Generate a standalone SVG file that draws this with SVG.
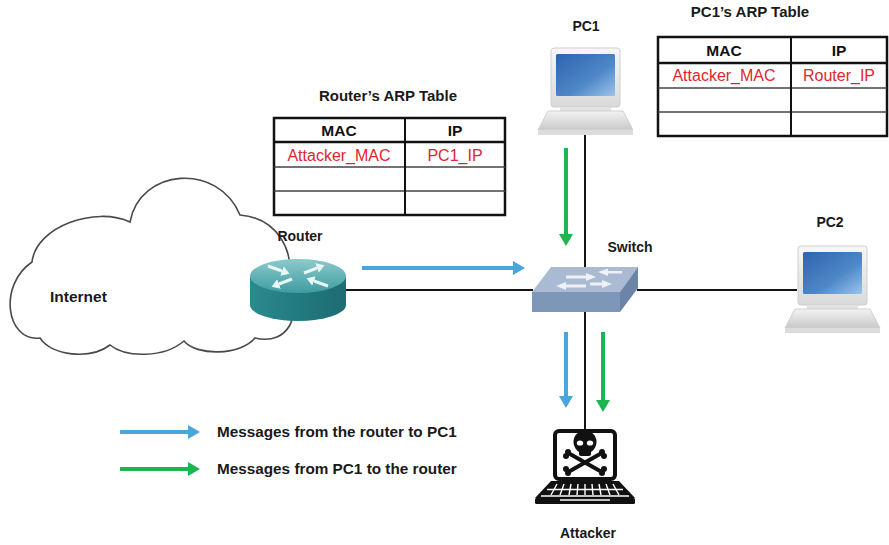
<svg xmlns="http://www.w3.org/2000/svg" width="889" height="545" viewBox="0 0 889 545">
  <style>
    .lbl { font-family: "Liberation Sans", Arial, sans-serif; font-weight: bold; font-size: 14px; fill: #1a1a1a; text-anchor: middle; }
    .ttl { font-family: "Liberation Sans", Arial, sans-serif; font-weight: bold; font-size: 15px; fill: #1a1a1a; text-anchor: middle; }
    .hd { font-family: "Liberation Sans", Arial, sans-serif; font-weight: bold; font-size: 15.5px; fill: #111; text-anchor: middle; }
    .cell { font-family: "Liberation Sans", Arial, sans-serif; font-size: 16px; fill: #e0262e; text-anchor: middle; }
    .leg { font-family: "Liberation Sans", Arial, sans-serif; font-weight: bold; font-size: 15.3px; fill: #1a1a1a; }
    .wire { stroke: #151515; stroke-width: 2; fill: none; }
    .tbl-out { fill: #fff; stroke: #111; stroke-width: 2.5; }
    .tbl-hd { stroke: #111; stroke-width: 2.5; }
    .tbl-ln { stroke: #444; stroke-width: 1.5; }
    .blue { stroke: #4aa5dc; stroke-width: 4; fill: none; marker-end: url(#headBlue); }
    .green { stroke: #1db550; stroke-width: 4; fill: none; marker-end: url(#headGreen); }
    .rarrow { stroke: #eaf6f6; stroke-width: 3; fill: none; marker-end: url(#headWhite); }
  </style>
  <defs>
    <marker id="headBlue" viewBox="0 0 12 14" markerWidth="12" markerHeight="14" refX="0" refY="7" orient="auto" markerUnits="userSpaceOnUse">
      <path d="M0,0 L12,7 L0,14 z" fill="#4aa5dc"/>
    </marker>
    <marker id="headGreen" viewBox="0 0 12 14" markerWidth="12" markerHeight="14" refX="0" refY="7" orient="auto" markerUnits="userSpaceOnUse">
      <path d="M0,0 L12,7 L0,14 z" fill="#1db550"/>
    </marker>
    <marker id="headWhite" viewBox="0 0 8 10" markerWidth="8" markerHeight="10" refX="0" refY="5" orient="auto" markerUnits="userSpaceOnUse">
      <path d="M0,0 L8,5 L0,10 z" fill="#eaf6f6"/>
    </marker>
    <linearGradient id="frame" x1="0" y1="0" x2="0" y2="1">
      <stop offset="0" stop-color="#f7f7f7"/>
      <stop offset="1" stop-color="#d9d9d9"/>
    </linearGradient>
    <linearGradient id="screen" x1="0" y1="0" x2="1" y2="1">
      <stop offset="0" stop-color="#2d63ad"/>
      <stop offset="0.6" stop-color="#4f88c8"/>
      <stop offset="1" stop-color="#9cc4ea"/>
    </linearGradient>
    <linearGradient id="kbd" x1="0" y1="0" x2="0" y2="1">
      <stop offset="0" stop-color="#f3f3f3"/>
      <stop offset="1" stop-color="#c9c9c9"/>
    </linearGradient>
    <linearGradient id="rtrTop" x1="0" y1="0" x2="0" y2="1">
      <stop offset="0" stop-color="#8ccacc"/>
      <stop offset="1" stop-color="#3f9ca0"/>
    </linearGradient>
    <linearGradient id="rtrSide" x1="0" y1="0" x2="1" y2="0">
      <stop offset="0" stop-color="#2a8a8e"/>
      <stop offset="0.5" stop-color="#237a7f"/>
      <stop offset="1" stop-color="#1d6c71"/>
    </linearGradient>
    <!-- desktop computer icon, 95 x 87 -->
    <symbol id="pc" viewBox="0 0 95 87" width="95" height="87" overflow="visible">
      <rect x="13" y="0" width="69" height="59" rx="3" fill="url(#frame)" stroke="#cfcfcf" stroke-width="1"/>
      <rect x="18" y="6" width="59" height="42" rx="1.5" fill="url(#screen)"/>
      <rect x="22" y="59" width="51" height="4" fill="#e2e2e2"/>
      <polygon points="10,63 85,63 95,82 0,82" fill="url(#kbd)" stroke="#d0d0d0" stroke-width="1"/>
      <rect x="0" y="82" width="95" height="5" fill="#dcdcdc"/>
    </symbol>
  </defs>

  <rect width="889" height="545" fill="#fff"/>

  <!-- wires -->
  <g id="connectors">
    <line class="wire" x1="585" y1="135" x2="585" y2="268"/>
    <line class="wire" x1="585" y1="311" x2="585" y2="430"/>
    <line class="wire" x1="340" y1="290" x2="533" y2="290"/>
    <line class="wire" x1="637" y1="290" x2="797" y2="290"/>
    <!-- traffic arrows -->
    <line class="blue" x1="362" y1="268" x2="513" y2="268"/>
    <line class="green" x1="566" y1="148" x2="566" y2="234"/>
    <line class="blue" x1="566" y1="332" x2="566" y2="396"/>
    <line class="green" x1="603" y1="332" x2="603" y2="400"/>
  </g>

  <!-- Internet cloud -->
  <g id="internet">
    <path d="M40 338 C6 342 -2 285 32 262 C36 226 96 206 130 222 C140 168 218 162 240 215 C276 218 298 250 287 290 C302 312 290 346 255 338 C240 356 196 356 184 341 C164 358 126 358 110 345 C90 360 52 356 40 338 Z" fill="#fff" stroke="#4a4a4a" stroke-width="1.6"/>
    <text x="50" y="302" class="lbl" style="text-anchor:start;font-size:15.5px">Internet</text>
  </g>

  <!-- Router -->
  <g id="router">
    <path d="M250 276 L250 305 A48 16 0 0 0 346 305 L346 276 Z" fill="url(#rtrSide)"/>
    <ellipse cx="298" cy="276" rx="48" ry="17" fill="url(#rtrTop)"/>
    <!-- two arrows in, two arrows out -->
    <line class="rarrow" x1="268" y1="266" x2="282" y2="271"/>
    <line class="rarrow" x1="328" y1="286" x2="314" y2="281"/>
    <line class="rarrow" x1="304" y1="273" x2="317" y2="268"/>
    <line class="rarrow" x1="292" y1="279" x2="279" y2="284"/>
    <text x="300" y="241" class="lbl">Router</text>
  </g>

  <!-- Router's ARP table -->
  <g id="router-arp">
    <text x="388" y="101" class="ttl">Router’s ARP Table</text>
    <rect x="274" y="118" width="231" height="97" class="tbl-out"/>
    <line x1="274" y1="142" x2="505" y2="142" class="tbl-hd"/>
    <line x1="274" y1="167" x2="505" y2="167" class="tbl-ln"/>
    <line x1="274" y1="191" x2="505" y2="191" class="tbl-ln"/>
    <line x1="405" y1="118" x2="405" y2="215" style="stroke:#111;stroke-width:2"/>
    <text x="339" y="136" class="hd">MAC</text>
    <text x="455" y="136" class="hd">IP</text>
    <text x="339" y="161" class="cell">Attacker_MAC</text>
    <text x="455" y="161" class="cell">PC1_IP</text>
  </g>

  <!-- PC1 -->
  <g id="pc1">
    <use href="#pc" x="538" y="48"/>
    <text x="586" y="31" class="lbl">PC1</text>
  </g>

  <!-- PC1's ARP table -->
  <g id="pc1-arp">
    <text x="750" y="17" class="ttl">PC1’s ARP Table</text>
    <rect x="658" y="37" width="229" height="99" class="tbl-out"/>
    <line x1="658" y1="63" x2="887" y2="63" class="tbl-hd"/>
    <line x1="658" y1="88" x2="887" y2="88" class="tbl-ln"/>
    <line x1="658" y1="112" x2="887" y2="112" class="tbl-ln"/>
    <line x1="791" y1="37" x2="791" y2="136" style="stroke:#111;stroke-width:2"/>
    <text x="724" y="56" class="hd">MAC</text>
    <text x="839" y="56" class="hd">IP</text>
    <text x="724" y="81" class="cell">Attacker_MAC</text>
    <text x="839" y="81" class="cell">Router_IP</text>
  </g>

  <!-- Switch -->
  <g id="switch">
    <polygon points="551,267 638,267 620,292 532,292" fill="#a9bad2"/>
    <polygon points="532,292 620,292 620,312 532,312" fill="#7e96b8"/>
    <polygon points="620,292 638,267 638,288 620,312" fill="#6b84a8"/>
    <g fill="#eef2f8">
      <path d="M556 286 L566 282 L566 284.5 L586 284.5 L586 287.5 L566 287.5 L566 290 Z"/>
      <path d="M596 277 L586 273 L586 275.5 L566 275.5 L566 278.5 L586 278.5 L586 281 Z"/>
      <path d="M612 284 L602 280 L602 282.5 L590 282.5 L590 285.5 L602 285.5 L602 288 Z"/>
      <path d="M598 272 L608 268.5 L608 271 L622 271 L622 273.5 L608 273.5 L608 276 Z"/>
    </g>
    <text x="630" y="252" class="lbl">Switch</text>
  </g>

  <!-- PC2 -->
  <g id="pc2">
    <use href="#pc" x="785" y="246"/>
    <text x="830" y="227" class="lbl">PC2</text>
  </g>

  <!-- Attacker laptop -->
  <g id="attacker">
    <rect x="555" y="431" width="60" height="48" rx="4" fill="#fff" stroke="#111" stroke-width="4"/>
    <!-- crossbones -->
    <g stroke="#111" stroke-width="4" stroke-linecap="round">
      <line x1="570" y1="454" x2="600" y2="471"/>
      <line x1="600" y1="454" x2="570" y2="471"/>
    </g>
    <g fill="#111">
      <circle cx="568" cy="452" r="3"/><circle cx="566" cy="456" r="3"/>
      <circle cx="602" cy="452" r="3"/><circle cx="604" cy="456" r="3"/>
      <circle cx="568" cy="473" r="3"/><circle cx="566" cy="469" r="3"/>
      <circle cx="602" cy="473" r="3"/><circle cx="604" cy="469" r="3"/>
      <!-- skull -->
      <circle cx="585" cy="442" r="11.5"/>
      <rect x="579" y="447" width="12" height="9" rx="2"/>
    </g>
    <ellipse cx="580" cy="443" rx="3.2" ry="2.6" fill="#fff"/>
    <ellipse cx="590" cy="443" rx="3.2" ry="2.6" fill="#fff"/>
    <!-- keyboard -->
    <polygon points="551,481 619,481 635,498 535,498" fill="#111"/>
    <rect x="535" y="498" width="100" height="6" rx="1.5" fill="#111"/>
    <g stroke="#fff" stroke-width="1.4">
      <line x1="547" y1="489.5" x2="623" y2="489.5"/>
      <line x1="541" y1="496" x2="629" y2="496"/>
      <line x1="557" y1="484" x2="551" y2="495"/>
      <line x1="564" y1="484" x2="560" y2="495"/>
      <line x1="571" y1="484" x2="569" y2="495"/>
      <line x1="578" y1="484" x2="577" y2="495"/>
      <line x1="585" y1="484" x2="585" y2="495"/>
      <line x1="592" y1="484" x2="593" y2="495"/>
      <line x1="599" y1="484" x2="601" y2="495"/>
      <line x1="606" y1="484" x2="610" y2="495"/>
      <line x1="613" y1="484" x2="619" y2="495"/>
      <line x1="560" y1="500" x2="610" y2="500"/>
    </g>
    <text x="588" y="538" class="lbl">Attacker</text>
  </g>

  <!-- Legend -->
  <g id="legend">
    <line class="blue" x1="120" y1="432" x2="188" y2="432"/>
    <line class="green" x1="120" y1="469" x2="188" y2="469"/>
    <text x="217" y="437" class="leg">Messages from the router to PC1</text>
    <text x="217" y="474" class="leg">Messages from PC1 to the router</text>
  </g>
</svg>
